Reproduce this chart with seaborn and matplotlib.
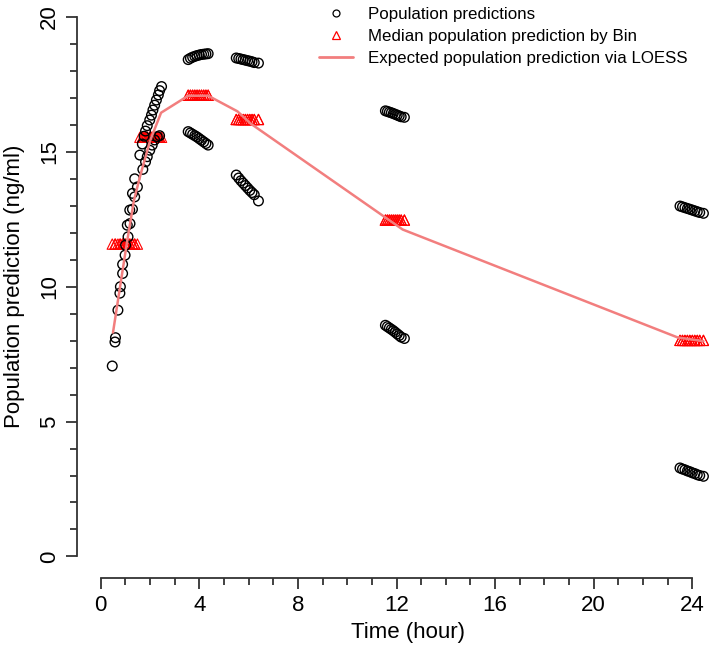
import numpy as np
import pandas as pd
import matplotlib
matplotlib.use("Agg")
import matplotlib.pyplot as plt
from matplotlib.lines import Line2D
import seaborn as sns

sns.set_style("white")
plt.rcParams['font.family'] = ['Liberation Sans', 'DejaVu Sans']
plt.rcParams['text.color'] = 'black'
plt.rcParams['axes.labelcolor'] = 'black'
plt.rcParams['xtick.color'] = 'black'
plt.rcParams['ytick.color'] = 'black'

# population predictions (hours, ng/ml)
early_time = [0.47, 0.58, 0.60, 0.70, 0.78, 0.80, 0.89, 0.89, 0.99, 1.01,
              1.11, 1.08, 1.19, 1.18, 1.29, 1.29, 1.38, 1.38, 1.49, 1.71,
              1.59, 1.82, 1.89, 1.69, 1.99, 2.09, 1.76, 2.19, 2.30, 2.39,
              1.82, 1.89, 1.99, 2.06, 2.12, 2.19, 2.26, 2.34, 2.39, 2.47]
early_conc = [7.06, 7.95, 8.11, 9.13, 9.76, 10.00, 10.49, 10.83, 11.17, 11.54,
              11.85, 12.28, 12.34, 12.84, 12.87, 13.46, 13.33, 14.00, 13.70, 14.35,
              14.88, 14.63, 14.82, 15.29, 15.06, 15.25, 15.58, 15.44, 15.56, 15.60,
              15.77, 15.97, 16.18, 16.36, 16.55, 16.73, 16.92, 17.11, 17.27, 17.42]

t4 = [3.55, 3.64, 3.73, 3.82, 3.91, 4.00, 4.09, 4.18, 4.27, 4.36]
c4_high = [18.42, 18.47, 18.51, 18.54, 18.57, 18.59, 18.61, 18.62, 18.63, 18.64]
c4_low = [15.75, 15.70, 15.65, 15.60, 15.55, 15.49, 15.43, 15.37, 15.31, 15.25]

t6 = [5.50, 5.60, 5.69, 5.78, 5.87, 5.96, 6.05, 6.14, 6.23, 6.40]
c6_high = [18.48, 18.46, 18.44, 18.42, 18.40, 18.38, 18.36, 18.34, 18.31, 18.29]
c6_low = [14.14, 14.03, 13.93, 13.84, 13.75, 13.66, 13.57, 13.49, 13.41, 13.18]

t12 = [11.55, 11.63, 11.71, 11.79, 11.87, 11.95, 12.03, 12.11, 12.19, 12.32]
c12_high = [16.52, 16.50, 16.47, 16.45, 16.42, 16.39, 16.36, 16.33, 16.30, 16.28]
c12_low = [8.57, 8.52, 8.47, 8.42, 8.37, 8.31, 8.25, 8.19, 8.13, 8.08]

t24 = [23.50, 23.60, 23.70, 23.80, 23.90, 24.00, 24.10, 24.20, 24.30, 24.45]
c24_high = [12.99, 12.96, 12.93, 12.90, 12.87, 12.84, 12.81, 12.78, 12.75, 12.72]
c24_low = [3.28, 3.24, 3.21, 3.17, 3.14, 3.10, 3.07, 3.03, 3.00, 2.97]

# median prediction per time bin
bin_edges = [0, 1.55, 3, 5, 9, 18, 25]
bin_median = [11.58, 15.54, 17.10, 16.20, 12.47, 8.01]

# LOESS curve
loess_time = [0.50, 1.05, 1.35, 1.60, 2.00, 2.45, 3.55, 4.36, 5.55, 6.08, 11.70, 12.25, 23.40, 24.45]
loess_conc = [8.30, 11.55, 13.20, 14.10, 15.40, 16.45, 17.08, 17.08, 16.50, 16.05, 12.47, 12.12, 8.12, 7.98]

df = pd.DataFrame({
    'time': early_time + t4 * 2 + t6 * 2 + t12 * 2 + t24 * 2,
    'conc': early_conc + c4_high + c4_low + c6_high + c6_low
            + c12_high + c12_low + c24_high + c24_low,
})
df['bin'] = pd.cut(df['time'], bin_edges, labels=False)
df['median'] = [bin_median[b] for b in df['bin']]

loess = pd.DataFrame({'time': loess_time, 'conc': loess_conc})

fig = plt.figure(figsize=(7.09, 6.52), dpi=100)
ax = fig.add_axes([77 / 709, 74 / 652, 639 / 709, 582.6 / 652])

line_col = '#F27E7E'
sns.lineplot(data=loess, x='time', y='conc', color=line_col, lw=1.8, sort=False, ax=ax)
sns.scatterplot(data=df, x='time', y='median', marker='^', s=55, facecolors='none',
                edgecolor='#FF0000', linewidth=0.8, ax=ax)
sns.scatterplot(data=df, x='time', y='conc', marker='o', s=48, facecolors='none',
                edgecolor='black', linewidth=1.0, ax=ax)

ax.set_xlim(-0.96, 24.96)
ax.set_ylim(-0.8, 20.8)
ax.set_xticks([0, 4, 8, 12, 16, 20, 24])
ax.set_xticks(range(25), minor=True)
ax.set_yticks([0, 5, 10, 15, 20])
ax.set_yticks(range(21), minor=True)

for s in ['top', 'right']:
    ax.spines[s].set_visible(False)
ax.spines['left'].set_bounds(0, 20)
ax.spines['bottom'].set_bounds(0, 24)
for s in ['left', 'bottom']:
    ax.spines[s].set_linewidth(1.3)
    ax.spines[s].set_color('#333333')

ax.tick_params(axis='both', which='major', length=8, width=1.3, color='#333333',
               labelsize=16, pad=4, direction='out', bottom=True, left=True)
ax.tick_params(axis='both', which='minor', length=5, width=1.3, color='#333333',
               direction='out', bottom=True, left=True)
for lab in ax.get_yticklabels():
    lab.set_rotation(90)
    lab.set_va('center')

ax.set_xlabel('Time (hour)', fontsize=16)
ax.set_ylabel('Population prediction (ng/ml)', fontsize=16)
ax.xaxis.set_label_coords(0.518, -0.075)
ax.yaxis.set_label_coords(-0.082, 0.5)

handles = [
    Line2D([], [], ls='none', marker='o', mfc='none', mec='black', ms=5, mew=0.9),
    Line2D([], [], ls='none', marker='^', mfc='none', mec='#FF0000', ms=6, mew=0.9),
    Line2D([], [], color=line_col, lw=2),
]
labels = ['Population predictions', 'Median population prediction by Bin',
          'Expected population prediction via LOESS']
fig.legend(handles, labels, loc='upper left', bbox_to_anchor=(312 / 709, 1.0),
           frameon=False, fontsize=12.2, handlelength=2.0, handletextpad=0.9,
           labelspacing=0.42, borderaxespad=0)

fig.savefig('out.png', dpi=100)
